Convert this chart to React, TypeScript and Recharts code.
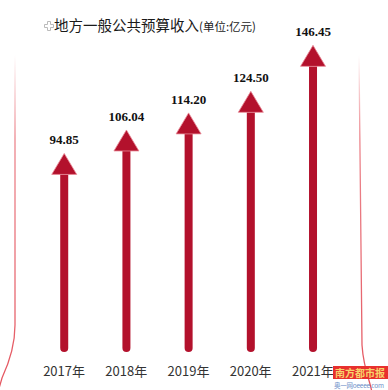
import { BarChart, Bar, XAxis, YAxis, LabelList } from "recharts";

const years = ["2017年", "2018年", "2019年", "2020年", "2021年"];
const revenue = [94.85, 106.04, 114.2, 124.5, 146.45];
const valueLabels = ["94.85", "106.04", "114.20", "124.50", "146.45"];

const data = years.map((year, i) => ({ year, value: revenue[i], label: valueLabels[i] }));

const RED = "#b3112c";

function ArrowBar(props: any) {
  const { x, y, width, height } = props;
  const cx = x + width / 2;
  const stem = 8;
  const headW = 25;
  const headH = 21;
  const bottom = y + height;
  const r = stem / 2;
  return (
    <g>
      <path
        d={`M${cx - r},${y + headH} L${cx + r},${y + headH} L${cx + r},${bottom - r} A${r},${r} 0 0 1 ${cx - r},${bottom - r} Z`}
        fill={RED}
      />
      <path
        d={`M${cx},${y} L${cx + headW / 2},${y + headH} L${cx - headW / 2},${y + headH} Z`}
        fill={RED}
        stroke="#e98a97"
        strokeWidth={0.8}
      />
    </g>
  );
}

function YearTick(props: any) {
  const { x, y, payload } = props;
  return (
    <text x={x} y={y + 16} textAnchor="middle" fontSize={13} fill="#333" fontFamily="'Noto Sans CJK SC', sans-serif">
      {payload.value}
    </text>
  );
}

export default function App() {
  return (
    <div style={{ position: "fixed", left: 0, top: 0, width: 388, height: 390, background: "#fff", overflow: "hidden" }}>
      <svg width={388} height={390} style={{ position: "absolute", left: 0, top: 0 }}>
        <defs>
          <linearGradient id="fade" x1="0" y1="0" x2="0" y2="1">
            <stop offset="0" stopColor="#e4545e" stopOpacity={0} />
            <stop offset="0.25" stopColor="#e4545e" stopOpacity={0.7} />
            <stop offset="1" stopColor="#e4545e" stopOpacity={1} />
          </linearGradient>
        </defs>
        <path d="M15,55 L15,325 Q15,350 2,378 L-2,392" fill="none" stroke="url(#fade)" strokeWidth={1.3} />
        <path d="M359,55 L362,345 Q363,362 370,384 L372,392" fill="none" stroke="url(#fade)" strokeWidth={1.3} />
      </svg>
      <div style={{ position: "absolute", left: 0, top: 0 }}>
        <BarChart width={388} height={390} data={data} margin={{ top: 17, right: 44, bottom: 8, left: 33 }}>
          <XAxis dataKey="year" axisLine={false} tickLine={false} height={30} tick={<YearTick />} interval={0} />
          <YAxis hide domain={[0, 160]} />
          <Bar dataKey="value" isAnimationActive={false} shape={<ArrowBar />}>
            <LabelList
              dataKey="label"
              position="top"
              offset={9}
              fill="#111"
              fontSize={13}
              fontWeight="bold"
              fontFamily="'Liberation Serif', serif"
            />
          </Bar>
        </BarChart>
      </div>
      <svg width={388} height={60} style={{ position: "absolute", left: 0, top: 0 }}>
        <g stroke="#bbb" strokeWidth={1} fill="none">
          <path d="M44.5,24.5 h3 v-3 h3 v3 h3 v3 h-3 v3 h-3 v-3 h-3 Z" />
        </g>
        <text x={54} y={31} fontFamily="'Noto Sans CJK SC', sans-serif" fill="#1a1a1a">
          <tspan fontSize={14.5}>地方一般公共预算收入</tspan>
          <tspan fontSize={11.5}>(单位:亿元)</tspan>
        </text>
      </svg>
      <svg width={388} height={390} style={{ position: "absolute", left: 0, top: 0 }}>
        <rect x={333} y={366} width={55} height={13} fill="#e8302e" />
        <text x={360} y={376.5} textAnchor="middle" fontSize={10} fill="#f7d36b" fontWeight="bold" fontFamily="'Noto Sans CJK SC', sans-serif">
          南方都市报
        </text>
        <text x={334} y={388} fontSize={6.5} fill="#6f8fc8" textLength={50} fontFamily="'Noto Sans CJK SC', sans-serif">
          奥一网oeeee.com
        </text>
      </svg>
    </div>
  );
}
